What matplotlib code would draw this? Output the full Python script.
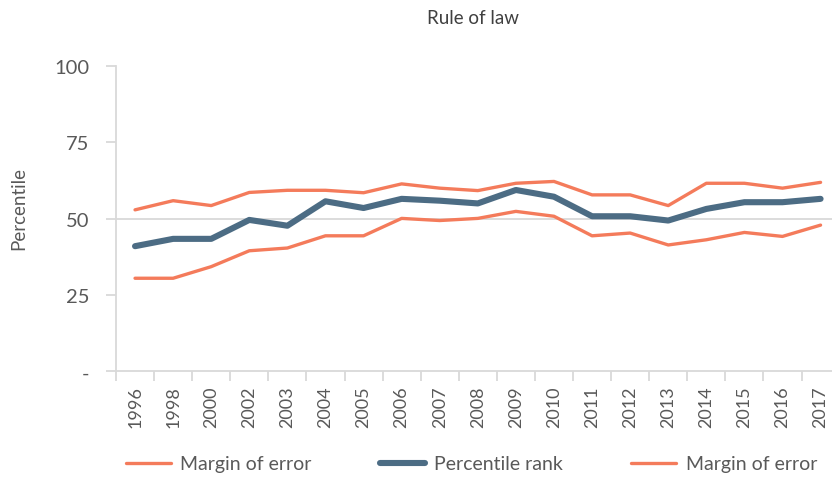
import matplotlib
matplotlib.use("Agg")
import matplotlib.pyplot as plt
from matplotlib.ticker import FixedLocator

plt.rcParams['font.family'] = ['Lato', 'DejaVu Sans']

years = ["1996", "1998", "2000", "2002", "2003", "2004", "2005", "2006", "2007", "2008",
         "2009", "2010", "2011", "2012", "2013", "2014", "2015", "2016", "2017"]
margin_low = [30.5, 30.5, 34.3, 39.5, 40.4, 44.4, 44.4, 50.1, 49.4, 50.1,
              52.4, 50.8, 44.4, 45.3, 41.4, 43.1, 45.5, 44.2, 47.9]
percentile_rank = [41.0, 43.4, 43.4, 49.6, 47.7, 55.7, 53.5, 56.5, 55.9, 55.0,
                   59.4, 57.2, 50.8, 50.8, 49.4, 53.2, 55.4, 55.4, 56.5]
margin_high = [52.9, 55.9, 54.3, 58.6, 59.3, 59.3, 58.5, 61.4, 60.0, 59.2,
               61.6, 62.2, 57.8, 57.8, 54.3, 61.6, 61.6, 60.0, 61.9]
y_ticks = [0, 25, 50, 75, 100]
y_labels = ["-", "25", "50", "75", "100"]

orange = "#F47B5B"
blue = "#4C6C84"
grid = "#D9D9D9"
txt = "#595959"

fig = plt.figure(figsize=(8.32, 4.81), dpi=100)
ax = fig.add_axes([116/832, (481-372.4)/481, (832-116)/832, (372.4-67)/481])

x = list(range(len(years)))
ax.plot(x, margin_high, color=orange, lw=2.4, solid_capstyle='round', label="Margin of error", zorder=3)
ax.plot(x, percentile_rank, color=blue, lw=4.4, solid_capstyle='round', label="Percentile rank", zorder=4)
ax.plot(x, margin_low, color=orange, lw=2.4, solid_capstyle='round', label="Margin of error", zorder=3)

ax.axhline(50, color=grid, lw=1.3, zorder=1)

ax.set_xlim(-0.5, 18.3)
ax.set_ylim(0, 100)
ax.set_yticks(y_ticks)
ax.set_yticklabels(y_labels)
ax.set_xticks(x)
ax.set_xticklabels(years, rotation=90)
ax.xaxis.set_minor_locator(FixedLocator([i - 0.5 for i in range(len(years) + 1)]))
ax.tick_params(axis='x', which='major', length=0, pad=10, labelsize=13, labelcolor=txt)
ax.tick_params(axis='x', which='minor', length=7, width=1.3, color=grid)
ax.tick_params(axis='y', length=7, width=1.3, color=grid, labelsize=14.5, labelcolor=txt, pad=12)

for s in ['top', 'right']:
    ax.spines[s].set_visible(False)
for s in ['left', 'bottom']:
    ax.spines[s].set_color(grid)
    ax.spines[s].set_linewidth(1.3)

fig.text(19/832, 1 - 208/481, "Percentile", rotation=90, ha='center', va='center',
         fontsize=13.5, color=txt)
fig.text(473/832, 1 - 18/481, "Rule of law", ha='center', va='center', fontsize=13.5, color="#404040")

handles, labels = ax.get_legend_handles_labels()
leg = fig.legend(handles, labels, loc='center', bbox_to_anchor=(471.5/832, 1 - 465/481), ncol=3,
                 frameon=False, fontsize=14, handlelength=2.3, columnspacing=3.5, handletextpad=0.5,
                 borderaxespad=0, borderpad=0)
for t in leg.get_texts():
    t.set_color(txt)

fig.savefig("out.png", dpi=100)
